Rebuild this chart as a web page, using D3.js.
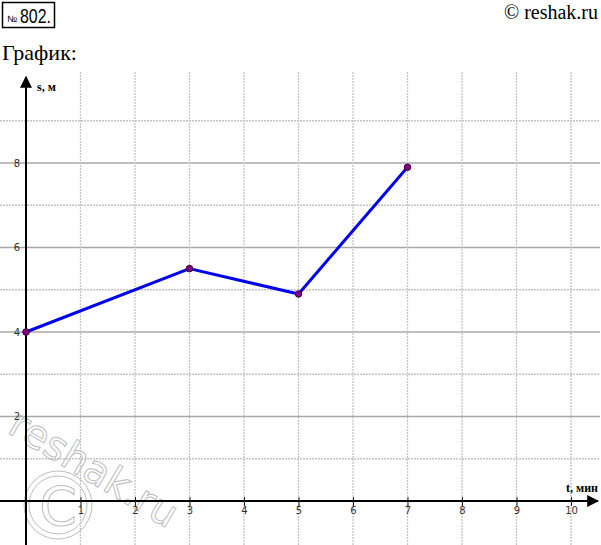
<!DOCTYPE html>
<meta charset="utf-8">
<script src="https://cdn.jsdelivr.net/npm/d3@7"></script>
<style>
  body { margin: 0; background: #fff; }
</style>
<div id="chart"></div>
<script>
// data
var tValues = [0, 3, 5, 7];
var sValues = [4, 5.5, 4.9, 7.9];
var xTicks = [1, 2, 3, 4, 5, 6, 7, 8, 9, 10];
var yTicks = [2, 4, 6, 8];
var yGrid = [1, 2, 3, 4, 5, 6, 7, 8, 9];

var W = 601, H = 545;
var svg = d3.select("#chart").append("svg")
  .attr("width", W).attr("height", H);

var x = d3.scaleLinear().domain([0, 10]).range([26, 571]);
var y = d3.scaleLinear().domain([0, 8]).range([501, 163]);

// header
svg.append("rect").attr("x", 2.5).attr("y", 2.5).attr("width", 52).attr("height", 25)
  .attr("fill", "none").attr("stroke", "#000").attr("stroke-width", 1.5);
svg.append("text").attr("x", 7).attr("y", 22).attr("font-family", "Liberation Sans, sans-serif")
  .attr("font-size", 9).attr("textLength", 10).attr("lengthAdjust", "spacingAndGlyphs").text("№");
svg.append("text").attr("x", 20).attr("y", 23).attr("font-family", "Liberation Sans, sans-serif")
  .attr("font-size", 21).attr("textLength", 31).attr("lengthAdjust", "spacingAndGlyphs").text("802.");
svg.append("text").attr("x", 2).attr("y", 60).attr("font-family", "Liberation Serif, serif")
  .attr("font-size", 22).text("График:");
svg.append("text").attr("x", 598).attr("y", 19).attr("text-anchor", "end")
  .attr("font-family", "Liberation Serif, serif").attr("font-size", 20).text("© reshak.ru");

// grid
svg.append("g").selectAll("line").data(yGrid).join("line")
  .attr("x1", 0).attr("x2", 600)
  .attr("y1", d => y(d)).attr("y2", d => y(d))
  .attr("stroke", d => d % 2 === 0 ? "#a8a8a8" : "#c4c4c4")
  .attr("stroke-width", 1.3)
  .attr("stroke-dasharray", d => d % 2 === 0 ? null : "2,1");

svg.append("g").selectAll("line").data(xTicks).join("line")
  .attr("x1", d => x(d)).attr("x2", d => x(d))
  .attr("y1", 72).attr("y2", H)
  .attr("stroke", "#c4c4c4").attr("stroke-width", 1.3)
  .attr("stroke-dasharray", "2,1");

// watermark
var wm = svg.append("g").attr("fill", "none").attr("stroke", "#bdbdbd").attr("stroke-width", 1);
wm.append("circle").attr("cx", 58).attr("cy", 505).attr("r", 34);
wm.append("circle").attr("cx", 58).attr("cy", 505).attr("r", 29);
wm.append("text").attr("x", 58).attr("y", 525).attr("text-anchor", "middle")
  .attr("font-family", "DejaVu Sans, sans-serif").attr("font-size", 54).text("C");
wm.append("text").attr("transform", "translate(6,432) rotate(31)")
  .attr("font-family", "DejaVu Sans, sans-serif").attr("font-size", 40).text("reshak.ru");

// axes
svg.append("defs").append("marker").attr("id", "arr")
  .attr("viewBox", "0 0 10 10").attr("refX", 9).attr("refY", 5)
  .attr("markerWidth", 6).attr("markerHeight", 6).attr("orient", "auto")
  .append("path").attr("d", "M0,0 L10,5 L0,10 Z").attr("fill", "#000");

svg.append("line").attr("x1", 0).attr("x2", 598).attr("y1", y(0)).attr("y2", y(0))
  .attr("stroke", "#000").attr("stroke-width", 2).attr("marker-end", "url(#arr)");
svg.append("line").attr("x1", x(0)).attr("x2", x(0)).attr("y1", H).attr("y2", 77)
  .attr("stroke", "#000").attr("stroke-width", 2).attr("marker-end", "url(#arr)");

var xAxis = d3.axisBottom(x).tickValues(xTicks).tickSize(5).tickPadding(4);
var gx = svg.append("g").attr("transform", "translate(0," + (y(0) - 4) + ")").call(xAxis);
gx.select(".domain").remove();
gx.selectAll(".tick line").attr("y2", 9).attr("stroke", "#222");
gx.selectAll(".tick text").attr("y", 10).attr("dy", "0.71em")
  .attr("font-family", "DejaVu Sans, sans-serif").attr("font-size", 10).attr("fill", "#333");

var yAxis = d3.axisLeft(y).tickValues(yTicks).tickSize(0).tickPadding(6);
var gy = svg.append("g").attr("transform", "translate(" + x(0) + ",0)").call(yAxis);
gy.select(".domain").remove();
gy.selectAll(".tick text").attr("font-family", "DejaVu Sans, sans-serif")
  .attr("font-size", 10).attr("fill", "#333");

svg.append("text").attr("x", 37).attr("y", 91).attr("font-family", "Liberation Serif, serif")
  .attr("font-weight", "bold").attr("font-size", 12).text("s, м");
svg.append("text").attr("x", 598).attr("y", 492).attr("text-anchor", "end")
  .attr("font-family", "Liberation Serif, serif")
  .attr("font-weight", "bold").attr("font-size", 12).text("t, мин");

// line + points
var pts = tValues.map((t, i) => [t, sValues[i]]);
svg.append("path").datum(pts)
  .attr("fill", "none").attr("stroke", "#0000ee").attr("stroke-width", 3)
  .attr("stroke-linejoin", "round")
  .attr("d", d3.line().x(d => x(d[0])).y(d => y(d[1])));
svg.append("g").selectAll("circle").data(pts).join("circle")
  .attr("cx", d => x(d[0])).attr("cy", d => y(d[1])).attr("r", 3.3)
  .attr("fill", "#800080").attr("stroke", "#3a003a").attr("stroke-width", 1);
</script>
